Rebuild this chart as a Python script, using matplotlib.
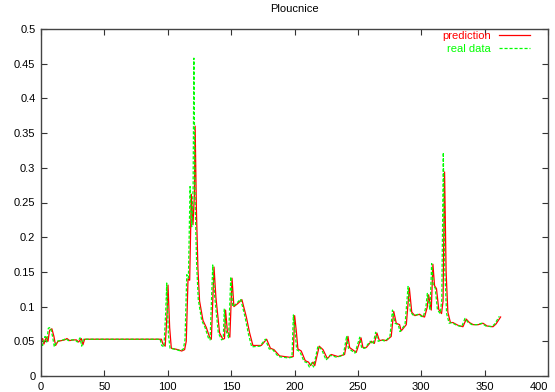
import matplotlib
matplotlib.use("Agg")
import matplotlib.pyplot as plt

title = "Ploucnice"
x_ticks = [0, 50, 100, 150, 200, 250, 300, 350, 400]
y_ticks = [0, 0.05, 0.1, 0.15, 0.2, 0.25, 0.3, 0.35, 0.4, 0.45, 0.5]
y_tick_labels = ["0", "0.05", "0.1", "0.15", "0.2", "0.25", "0.3", "0.35", "0.4", "0.45", "0.5"]

real_x = [0, 1.3, 3.2, 4.5, 5.8, 7.6, 9.2, 10.5, 12.4, 15, 17.6, 19.5, 21.6, 24.2, 26.9, 28.7,
          30.8, 32.1, 33.4, 94, 95.2, 97, 98.4, 99.2, 100.5, 101.8, 107, 110, 112.3, 113.6,
          115, 116.3, 117.6, 118.9, 120, 120.6, 121.6, 122.8, 124.1, 126.8, 129.4, 132, 133.4,
          135.5, 137, 139.9, 142.5, 143.8, 144.6, 146, 148, 149.7, 151.2, 154, 157.5, 161,
          163.6, 166.2, 172.8, 177, 180, 182.8, 187.2, 195, 198, 199.1, 200.4, 201.7, 204.3,
          207.5, 210.1, 211.7, 213.6, 215, 218.5, 221.5, 224.9, 228, 233.3, 238.5, 241.2,
          242.5, 247.7, 251.5, 253, 255.6, 259.6, 262, 264, 266, 268.8, 271.5, 275.3, 277.3,
          279.3, 281.9, 283.2, 287.2, 289.6, 291.5, 294, 297.7, 300, 301.6, 303.7, 304.8,
          306.9, 308.2, 309.5, 311, 312.8, 315, 316.2, 317.4, 318.6, 320, 322, 324, 328,
          331.9, 334.5, 337, 340, 344, 347.7, 351, 355.6, 358, 361.6]
real_y = [0.054, 0.044, 0.057, 0.049, 0.069, 0.070, 0.056, 0.042, 0.050, 0.051, 0.052, 0.054,
          0.051, 0.052, 0.052, 0.049, 0.055, 0.043, 0.053, 0.053, 0.044, 0.042, 0.093, 0.134,
          0.060, 0.040, 0.038, 0.036, 0.039, 0.052, 0.146, 0.141, 0.273, 0.215, 0.270, 0.458,
          0.250, 0.160, 0.110, 0.080, 0.070, 0.055, 0.052, 0.160, 0.115, 0.062, 0.052, 0.054,
          0.097, 0.065, 0.055, 0.143, 0.100, 0.104, 0.111, 0.085, 0.061, 0.042, 0.043, 0.053,
          0.039, 0.038, 0.028, 0.026, 0.027, 0.088, 0.065, 0.038, 0.035, 0.021, 0.019, 0.013,
          0.019, 0.013, 0.043, 0.038, 0.023, 0.030, 0.027, 0.030, 0.058, 0.040, 0.033, 0.056,
          0.040, 0.040, 0.050, 0.046, 0.063, 0.050, 0.052, 0.050, 0.057, 0.095, 0.076, 0.074,
          0.064, 0.074, 0.129, 0.092, 0.087, 0.089, 0.086, 0.085, 0.100, 0.119, 0.095, 0.162,
          0.130, 0.127, 0.095, 0.090, 0.110, 0.322, 0.150, 0.090, 0.076, 0.077, 0.073, 0.071,
          0.083, 0.077, 0.074, 0.074, 0.076, 0.072, 0.071, 0.075, 0.086]

pred_x = [0, 1.3, 2.3, 4.2, 5.5, 6.8, 8.6, 10.2, 11.5, 13.4, 16, 18.6, 20.5, 22.6, 25.2, 27.9,
          29.7, 31.8, 33.1, 34.4, 95, 96.2, 98, 99.4, 100.2, 101.5, 102.8, 108, 111, 113.3,
          114.6, 116, 117.3, 118.6, 119.9, 121, 121.6, 122.6, 123.8, 125.1, 127.8, 130.4, 133,
          134.4, 136.5, 138, 140.9, 143.5, 144.8, 145.6, 147, 149, 150.7, 152.2, 155, 158.5,
          162, 164.6, 167.2, 173.8, 178, 181, 183.8, 188.2, 196, 199, 200.1, 201.4, 202.7,
          205.3, 208.5, 211.1, 212.7, 214.6, 216, 219.5, 222.5, 225.9, 229, 234.3, 239.5,
          242.2, 243.5, 248.7, 252.5, 254, 256.6, 260.6, 263, 265, 267, 269.8, 272.5, 276.3,
          278.3, 280.3, 282.9, 284.2, 288.2, 290.6, 292.5, 295, 298.7, 301, 302.6, 304.7,
          305.8, 307.9, 309.2, 310.5, 312, 313.8, 316, 317.2, 318.4, 319.6, 321, 323, 325,
          329, 332.9, 335.5, 338, 341, 345, 348.7, 352, 356.6, 359, 362.6]
pred_y = [0.050, 0.054, 0.046, 0.056, 0.050, 0.066, 0.068, 0.057, 0.044, 0.050, 0.051, 0.052,
          0.054, 0.051, 0.052, 0.052, 0.049, 0.054, 0.045, 0.053, 0.053, 0.046, 0.043, 0.088,
          0.131, 0.070, 0.040, 0.038, 0.036, 0.038, 0.050, 0.140, 0.138, 0.262, 0.218, 0.260,
          0.360, 0.240, 0.155, 0.108, 0.080, 0.070, 0.056, 0.053, 0.157, 0.113, 0.062, 0.053,
          0.054, 0.095, 0.065, 0.056, 0.141, 0.100, 0.104, 0.110, 0.085, 0.062, 0.044, 0.044,
          0.053, 0.040, 0.038, 0.029, 0.027, 0.028, 0.087, 0.065, 0.039, 0.036, 0.022, 0.020,
          0.015, 0.020, 0.015, 0.043, 0.038, 0.025, 0.031, 0.028, 0.031, 0.057, 0.041, 0.034,
          0.055, 0.041, 0.041, 0.050, 0.047, 0.062, 0.051, 0.052, 0.051, 0.057, 0.093, 0.076,
          0.074, 0.065, 0.074, 0.127, 0.092, 0.087, 0.089, 0.086, 0.085, 0.099, 0.117, 0.095,
          0.161, 0.130, 0.126, 0.096, 0.090, 0.108, 0.294, 0.150, 0.092, 0.077, 0.077, 0.073,
          0.071, 0.082, 0.077, 0.074, 0.074, 0.076, 0.072, 0.071, 0.075, 0.085]

plt.rcParams['font.family'] = ['Liberation Sans', 'DejaVu Sans']

fig = plt.figure(figsize=(5.55, 3.92), dpi=100)
ax = fig.add_axes([41/555, 1-376/392, (548-41)/555, (376-29)/392])

ax.plot(pred_x, pred_y, color='#ff0000', lw=0.9, label='prediction')
ax.plot(real_x, real_y, color='#00ff00', lw=0.9, dashes=(2.5, 1.5), label='real data')

ax.set_xlim(0, 400)
ax.set_ylim(0, 0.5)
ax.set_xticks(x_ticks)
ax.set_yticks(y_ticks)
ax.set_yticklabels(y_tick_labels)
ax.tick_params(direction='in', length=4, width=0.8, color='#333333', labelsize=8,
               top=True, right=True, pad=4)
xl = ax.get_xticklabels()
xl[-1].set_horizontalalignment('right')
xl[-1].set_x(xl[-1].get_position()[0])
for s in ax.spines.values():
    s.set_color('#444444')
    s.set_linewidth(1.0)

ax.set_title(title, fontsize=8, pad=12)

leg = ax.legend(loc='upper right', bbox_to_anchor=((530-41)/507, (376-31)/347),
                frameon=False, markerfirst=False, fontsize=8, borderpad=0, borderaxespad=0,
                handlelength=2.8, handletextpad=0.7, labelspacing=0.25,
                labelcolor='linecolor')

fig.savefig('out.png', dpi=100)
